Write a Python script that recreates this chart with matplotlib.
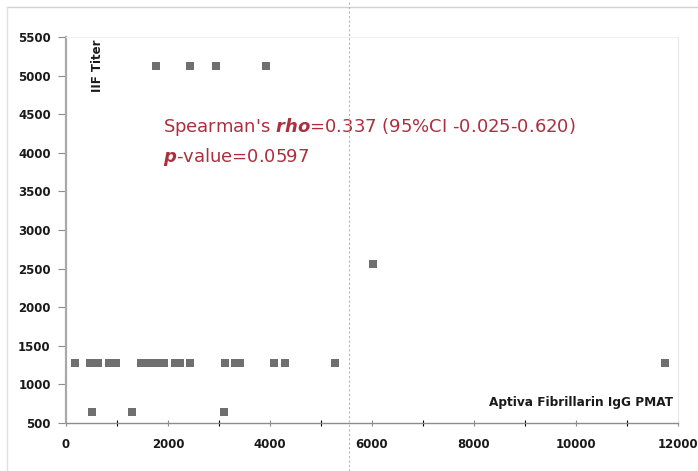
import matplotlib
matplotlib.use('Agg')
import matplotlib.pyplot as plt
from matplotlib.lines import Line2D
from matplotlib.ticker import MultipleLocator

# Aptiva Fibrillarin IgG PMAT vs IIF titer
pmat_1280 = [180, 470, 630, 840, 980, 1470, 1610, 1760, 1920, 2140, 2240, 2430,
             3120, 3310, 3410, 4080, 4290, 5270, 11750]
pmat_640 = [510, 1290, 3100]
pmat_2560 = [6020]
pmat_5120 = [1760, 2430, 2940, 3920]

x_vals = pmat_640 + pmat_1280 + pmat_2560 + pmat_5120
y_vals = ([640] * len(pmat_640) + [1280] * len(pmat_1280)
          + [2560] * len(pmat_2560) + [5120] * len(pmat_5120))

fig = plt.figure(figsize=(6.98, 4.71), dpi=100, facecolor='white')
ax = fig.add_axes([66 / 698, 48 / 471, 612 / 698, 386 / 471])

ax.scatter(x_vals, y_vals, marker='s', s=32, color='#6f6f6f', edgecolors='none', zorder=3)

ax.set_xlim(0, 12000)
ax.set_ylim(500, 5500)
ax.xaxis.set_major_locator(MultipleLocator(2000))
ax.xaxis.set_minor_locator(MultipleLocator(1000))
ax.yaxis.set_major_locator(MultipleLocator(500))

ax.tick_params(axis='both', labelsize=8.5, colors='#8c8c8c', labelcolor='#1a1a1a')
ax.tick_params(axis='x', which='both', direction='inout', length=4, width=0.8, pad=9)
ax.tick_params(axis='y', direction='out', length=6, width=0.8, pad=5)
for t in ax.get_xticklabels() + ax.get_yticklabels():
    t.set_fontweight('bold')

ax.spines['left'].set_color('#a8a8a8')
ax.spines['left'].set_linewidth(1.6)
ax.spines['bottom'].set_color('#8c8c8c')
ax.spines['bottom'].set_linewidth(1.0)
ax.spines['top'].set_color('#f0f0f0')
ax.spines['right'].set_color('#e8e8e8')

ax.text(0.051, 0.925, 'IIF Titer', transform=ax.transAxes, rotation=90,
        ha='center', va='center', fontsize=8.5, fontweight='bold', color='#1a1a1a')
ax.text(0.992, 0.052, 'Aptiva Fibrillarin IgG PMAT', transform=ax.transAxes,
        ha='right', va='center', fontsize=8.7, fontweight='bold', color='#1a1a1a')

red = '#ad2f3e'
ax.text(0.158, 0.767, r"Spearman's $\mathbfit{rho}$=0.337 (95%CI -0.025-0.620)",
        transform=ax.transAxes, ha='left', va='center', fontsize=13, color=red)
ax.text(0.158, 0.689, r"$\mathbfit{p}$-value=0.0597",
        transform=ax.transAxes, ha='left', va='center', fontsize=13, color=red)

# page frame and dashed guide line from the source scan
fig.add_artist(Line2D([7 / 698, 1], [1 - 7 / 471, 1 - 7 / 471], color='#d0d0d0', lw=1.0))
fig.add_artist(Line2D([7 / 698, 7 / 698], [0, 1 - 7 / 471], color='#e0e0e0', lw=1.0))
fig.add_artist(Line2D([349 / 698, 349 / 698], [0, 1], color='#b8b8b8', lw=0.8,
                      linestyle=(0, (2, 2))))

fig.savefig('out.png', dpi=100, facecolor='white')
